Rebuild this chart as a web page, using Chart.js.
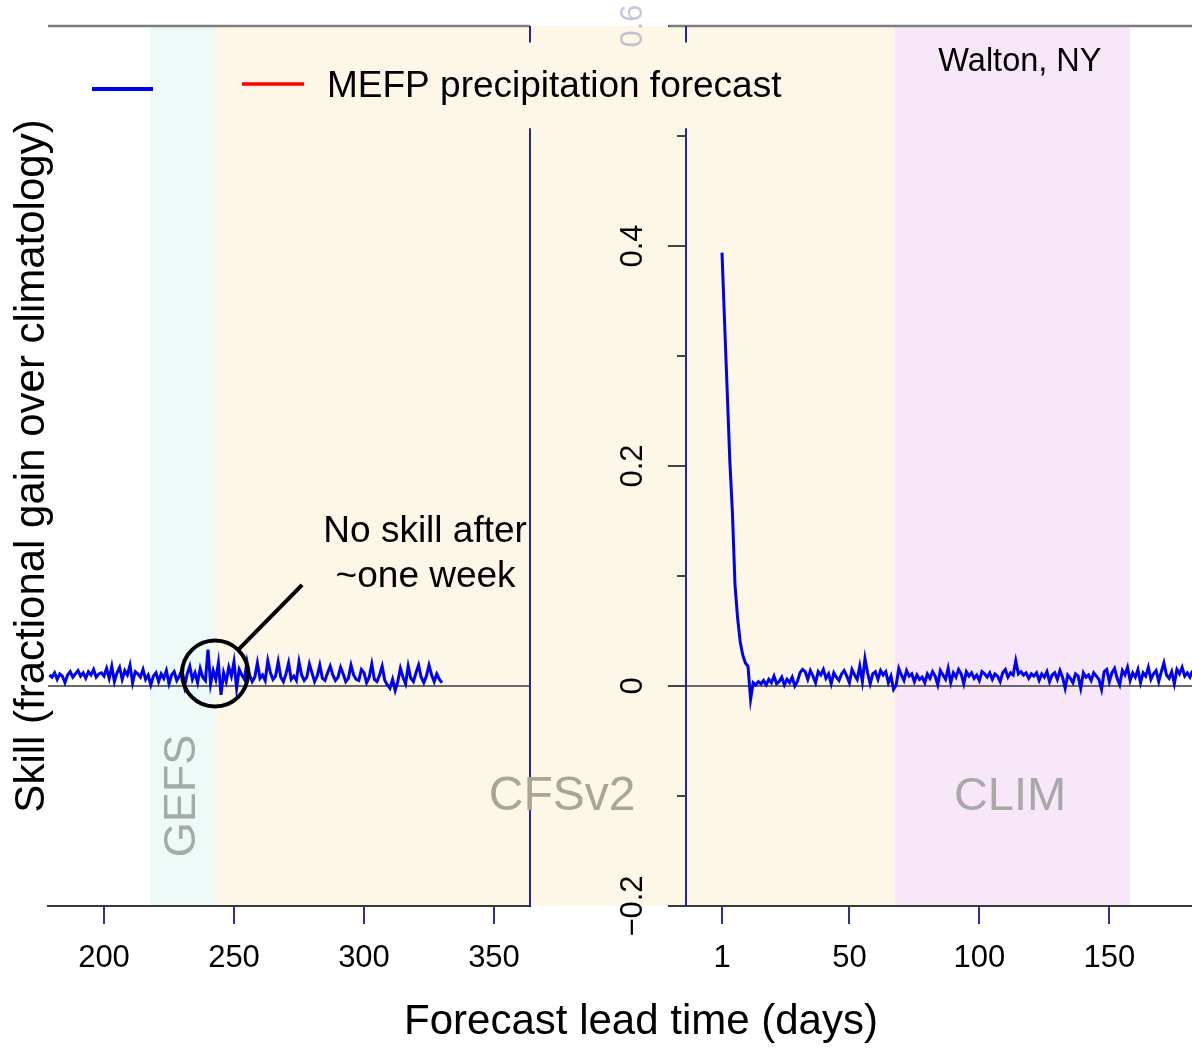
<!DOCTYPE html>
<html>
<head>
<meta charset="utf-8">
<script src="https://cdn.jsdelivr.net/npm/chart.js@4.4.1/dist/chart.umd.min.js"></script>
<style>
  html, body { margin: 0; padding: 0; background: #fff; }
  #wrap { position: relative; width: 1192px; height: 1052px; }
  #wrap canvas { position: absolute; left: 0; top: 0; }
</style>
</head>
<body>
<div id="wrap">
  <canvas id="leftChart" width="1192" height="1052"></canvas>
  <canvas id="rightChart" width="1192" height="1052"></canvas>
</div>
<script>
// Skill of the forecast, one value per lead day (left panel starts at day 179)
const leftFirstDay = 179;
const leftSkill = [
  0.010, 0.008, 0.012, 0.006, 0.011, 0.009, 0.003, 0.010, 0.013, 0.008,
  0.011, 0.014, 0.009, 0.012, 0.007, 0.013, 0.010, 0.015, 0.008, 0.011,
  0.012, 0.009, 0.016, 0.007, 0.018, 0.004, 0.012, 0.017, 0.006, 0.014,
  0.010, 0.019, 0.003, 0.013, 0.011, 0.008, 0.015, 0.006, 0.010, 0.001,
  0.009, 0.012, 0.004, 0.011, 0.007, 0.014, 0.002, 0.010, 0.013, 0.005,
  0.009, 0.015, 0.000, 0.011, 0.018, 0.006, 0.012, 0.003, 0.016, 0.008,
  0.005, 0.033, 0.002, 0.014, 0.006, 0.021, -0.008, 0.012, 0.004, 0.017,
  0.009, 0.022, -0.002, 0.015, 0.010, 0.006, 0.022, 0.010, 0.004, 0.008,
  0.021, 0.007, 0.010, 0.005, 0.023, 0.012, 0.006, 0.009, 0.022, 0.008,
  0.004, 0.011, 0.021, 0.006, 0.009, 0.005, 0.022, 0.010, 0.005, 0.008,
  0.020, 0.012, 0.004, 0.009, 0.019, 0.007, 0.005, 0.012, 0.018, 0.010,
  0.005, 0.008, 0.017, 0.011, 0.004, 0.007, 0.019, 0.010, 0.006, 0.005,
  0.015, 0.012, 0.003, 0.008, 0.020, 0.006, 0.004, 0.010, 0.018, 0.005,
  0.001, -0.002, 0.006, -0.004, 0.004, 0.016, 0.008, 0.002, 0.018, 0.007,
  0.004, 0.012, 0.019, 0.008, 0.003, 0.009, 0.019, 0.010, 0.004, 0.011,
  0.006, 0.003
];

// right panel starts at day 1
const rightFirstDay = 1;
const rightSkill = [
  0.394, 0.330, 0.268, 0.205, 0.158, 0.092, 0.062, 0.040, 0.028, 0.021,
  0.018, -0.012, 0.003, 0.001, 0.004, 0.002, 0.005, 0.001, 0.006, 0.003,
  0.009, 0.002, 0.004, 0.008, 0.001, 0.006, 0.003, 0.008, 0.000, 0.004,
  0.012, 0.015, 0.013, 0.006, 0.014, 0.009, 0.003, 0.013, 0.010, 0.015,
  0.007, 0.011, 0.002, 0.012, 0.008, 0.005, 0.011, 0.014, 0.009, 0.003,
  0.015, 0.010, 0.006, 0.018, 0.004, 0.025, 0.012, 0.002, 0.011, 0.013,
  0.006, 0.014, 0.010, 0.013, 0.003, 0.009, -0.003, 0.001, 0.016, 0.010,
  0.005, 0.014, 0.009, 0.011, 0.004, 0.010, 0.006, 0.008, 0.003, 0.011,
  0.007, 0.013, 0.009, 0.001, 0.014, 0.010, 0.006, 0.016, 0.003, 0.012,
  0.008, 0.015, 0.011, 0.002, 0.013, 0.009, 0.012, 0.007, 0.010, 0.005,
  0.013, 0.011, 0.008, 0.012, 0.006, 0.011, 0.009, 0.004, 0.012, 0.015,
  0.008, 0.012, 0.010, 0.023, 0.011, 0.013, 0.010, 0.012, 0.007, 0.011,
  0.009, 0.012, 0.005, 0.011, 0.008, 0.013, 0.004, 0.010, 0.012, 0.006,
  0.014, 0.008, -0.002, 0.010, 0.007, 0.003, 0.011, 0.009, -0.002, 0.012,
  0.008, 0.010, 0.005, 0.012, 0.009, 0.006, -0.003, 0.013, 0.015, 0.004,
  0.012, 0.016, 0.007, 0.001, 0.014, 0.010, 0.017, 0.005, 0.012, 0.008,
  0.015, 0.003, 0.012, 0.009, 0.017, 0.006, 0.011, 0.014, 0.004, 0.013,
  0.021, 0.010, 0.007, 0.013, 0.002, 0.015, 0.011, 0.017, 0.009, 0.012,
  0.008, 0.014
];

const leftTicks = [200, 250, 300, 350];
const rightTicks = [1, 50, 100, 150];
const yTicks = [-0.2, 0, 0.2, 0.4, 0.6];
const yMinorTicks = [-0.1, 0.1, 0.3, 0.5];

// forecast source periods (days)
const gefsBand = [217.7, 242.7];
const cfsLeftBand = [242.7, 423.9];   // runs on across the gap
const cfsRightBand = [-12.9, 67.5];
const climBand = [67.5, 157.9];

const FONT = '"Liberation Sans", Arial, Helvetica, sans-serif';
const lineBlue = '#0000f0';
const mefpRed = '#ff0000';
const tickBlue = '#30309a';
const frameGrey = '#7d7d7d';

const toPoints = (first, vals) => vals.map((v, i) => ({ x: first + i, y: v }));

function text(ctx, str, x, y, size, color, rot, align) {
  ctx.save();
  ctx.font = size + 'px ' + FONT;
  ctx.fillStyle = color;
  ctx.textAlign = align || 'center';
  ctx.textBaseline = 'middle';
  ctx.translate(x, y);
  if (rot) ctx.rotate(rot);
  ctx.fillText(str, 0, 0);
  ctx.restore();
}

function hline(ctx, x0, x1, y, color, w) {
  ctx.save();
  ctx.strokeStyle = color;
  ctx.lineWidth = w;
  ctx.beginPath();
  ctx.moveTo(x0, y);
  ctx.lineTo(x1, y);
  ctx.stroke();
  ctx.restore();
}

function vline(ctx, x, y0, y1, color, w) {
  ctx.save();
  ctx.strokeStyle = color;
  ctx.lineWidth = w;
  ctx.beginPath();
  ctx.moveTo(x, y0);
  ctx.lineTo(x, y1);
  ctx.stroke();
  ctx.restore();
}

// background bands, zero line, frame bits
const panelPlugin = {
  id: 'panel',
  beforeDraw(chart, args, opts) {
    const { ctx, chartArea, scales: { x, y } } = chart;
    opts.bands.forEach(b => {
      const x0 = x.getPixelForValue(b.range[0]);
      const x1 = x.getPixelForValue(b.range[1]);
      ctx.fillStyle = b.color;
      ctx.fillRect(x0, chartArea.top, x1 - x0, chartArea.bottom - chartArea.top);
    });
  },
  beforeDatasetsDraw(chart, args, opts) {
    const { ctx, chartArea, scales: { x, y } } = chart;
    const y0 = y.getPixelForValue(0);
    hline(ctx, chartArea.left, chartArea.right, y0, '#6a6a6a', 2.2);
    // top frame line
    hline(ctx, chartArea.left - opts.frameExtend, chartArea.right, chartArea.top, frameGrey, 2.5);
    hline(ctx, chartArea.left - opts.frameExtend, chartArea.left, chartArea.bottom, '#3a3a3a', 2);
    // vertical axis line, broken behind the legend strip
    const vx = opts.vlineAt === 'left' ? chartArea.left : chartArea.right;
    vline(ctx, vx, chartArea.top, y.getPixelForValue(0.585), '#26268c', 2);
    vline(ctx, vx, y.getPixelForValue(0.507), chartArea.bottom + 1, '#26268c', 2);
  },
  afterDraw(chart, args, opts) {
    if (opts.after) opts.after(chart);
  }
};

function drawLeftExtras(chart) {
  const { ctx, scales: { x, y } } = chart;
  // period labels
  text(ctx, 'GEFS', x.getPixelForValue(230.4), y.getPixelForValue(-0.1), 45, '#a3aaa7', -Math.PI / 2);
  text(ctx, 'CFSv2', x.getPixelForValue(376.2), y.getPixelForValue(-0.101), 48, '#aca595');
  // annotation
  text(ctx, 'No skill after', x.getPixelForValue(323.5), y.getPixelForValue(0.140), 37, '#000');
  text(ctx, '~one week', x.getPixelForValue(323.7), y.getPixelForValue(0.099), 37, '#000');
  const cx = x.getPixelForValue(242.7), cy = y.getPixelForValue(0.0114), r = 33;
  const ex = x.getPixelForValue(276.2), ey = y.getPixelForValue(0.092);
  const ang = Math.atan2(ey - cy, ex - cx);
  ctx.save();
  ctx.strokeStyle = '#000';
  ctx.lineWidth = 4;
  ctx.beginPath();
  ctx.arc(cx, cy, r, 0, Math.PI * 2);
  ctx.stroke();
  ctx.beginPath();
  ctx.moveTo(cx + r * Math.cos(ang), cy + r * Math.sin(ang));
  ctx.lineTo(ex, ey);
  ctx.stroke();
  ctx.restore();
}

function drawRightExtras(chart) {
  const { ctx, chartArea, scales: { x, y } } = chart;
  const ds = chart.data.datasets;
  // minor y ticks
  yMinorTicks.forEach(v => {
    const py = y.getPixelForValue(v);
    hline(ctx, chartArea.left - 9, chartArea.left, py, '#444', 2);
  });
  // rotated y tick labels
  yTicks.forEach(v => {
    const lbl = v === 0 ? '0' : v.toFixed(1).replace('-', '\u2212');
    const col = v === 0.6 ? 'rgba(90,90,170,0.35)' : '#000';
    text(ctx, lbl, chartArea.left - 53, y.getPixelForValue(v), 31, col, -Math.PI / 2);
  });
  text(ctx, 'CLIM', x.getPixelForValue(111.8), y.getPixelForValue(-0.101), 47, '#a8a8a8');
  text(ctx, 'Walton, NY', x.getPixelForValue(115.6), y.getPixelForValue(0.567), 32.5, '#000');
  text(ctx, 'Forecast lead time (days)', 641, 1022, 42, '#000');
  // legend across both panels (top canvas)
  hline(ctx, 92, 153, 89, ds[0].borderColor, 4);
  hline(ctx, 242, 304, 84, ds[1].borderColor, 3.5);
  text(ctx, ds[1].label, 327, 87, 37, '#000', 0, 'left');
}

const xTickFont = { family: FONT, size: 31 };

new Chart(document.getElementById('leftChart'), {
  type: 'line',
  data: {
    datasets: [{
      label: 'Skill',
      data: toPoints(leftFirstDay, leftSkill),
      borderColor: lineBlue,
      borderWidth: 3,
      pointRadius: 0,
      tension: 0
    }]
  },
  options: {
    responsive: false,
    animation: false,
    events: [],
    layout: { padding: { left: 0, top: 26, right: 662, bottom: 0 } },
    plugins: {
      legend: { display: false },
      tooltip: { enabled: false },
      panel: {
        bands: [
          { range: gefsBand, color: '#eefaf7' },
          { range: cfsLeftBand, color: '#fdf7e8' }
        ],
        vlineAt: 'right',
        frameExtend: 0,
        after: drawLeftExtras
      }
    },
    scales: {
      x: {
        type: 'linear',
        min: 178.46,
        max: 363.85,
        afterBuildTicks: s => { s.ticks = leftTicks.map(v => ({ value: v })); },
        afterFit: s => { s.height = 146; },
        grid: { drawOnChartArea: false, tickLength: 18, color: tickBlue, lineWidth: 2 },
        border: { display: true, color: '#3a3a3a', width: 2 },
        ticks: { font: xTickFont, color: '#000', padding: 16, maxRotation: 0, autoSkip: false }
      },
      y: {
        min: -0.2,
        max: 0.6,
        afterFit: s => { s.width = 48; },
        grid: { display: false },
        border: { display: false },
        ticks: { display: false },
        title: {
          display: true,
          text: 'Skill (fractional gain over climatology)',
          font: { family: FONT, size: 42 },
          color: '#000',
          padding: { top: 7, bottom: 0 }
        }
      }
    }
  },
  plugins: [panelPlugin]
});

new Chart(document.getElementById('rightChart'), {
  type: 'line',
  data: {
    datasets: [{
      label: 'Skill',
      data: toPoints(rightFirstDay, rightSkill),
      borderColor: lineBlue,
      borderWidth: 3,
      pointRadius: 0,
      tension: 0
    }, {
      label: 'MEFP precipitation forecast',
      data: [],
      borderColor: mefpRed
    }]
  },
  options: {
    responsive: false,
    animation: false,
    events: [],
    layout: { padding: { left: 626, top: 26, right: 0, bottom: 0 } },
    plugins: {
      legend: { display: false },
      tooltip: { enabled: false },
      panel: {
        bands: [
          { range: cfsRightBand, color: '#fdf7e8' },
          { range: climBand, color: '#f8e7f8' }
        ],
        vlineAt: 'left',
        frameExtend: 17,
        after: drawRightExtras
      }
    },
    scales: {
      x: {
        type: 'linear',
        min: -12.85,
        max: 181.8,
        afterBuildTicks: s => { s.ticks = rightTicks.map(v => ({ value: v })); },
        afterFit: s => { s.height = 146; },
        grid: { drawOnChartArea: false, tickLength: 18, color: tickBlue, lineWidth: 2 },
        border: { display: true, color: '#3a3a3a', width: 2 },
        ticks: { font: xTickFont, color: '#000', padding: 16, maxRotation: 0, autoSkip: false }
      },
      y: {
        min: -0.2,
        max: 0.6,
        afterBuildTicks: s => { s.ticks = yTicks.map(v => ({ value: v })); },
        afterFit: s => { s.width = 60; },
        grid: { drawOnChartArea: false, tickLength: 18, color: '#444', lineWidth: 2 },
        border: { display: false },
        ticks: { display: false }
      }
    }
  },
  plugins: [panelPlugin]
});
</script>
</body>
</html>
